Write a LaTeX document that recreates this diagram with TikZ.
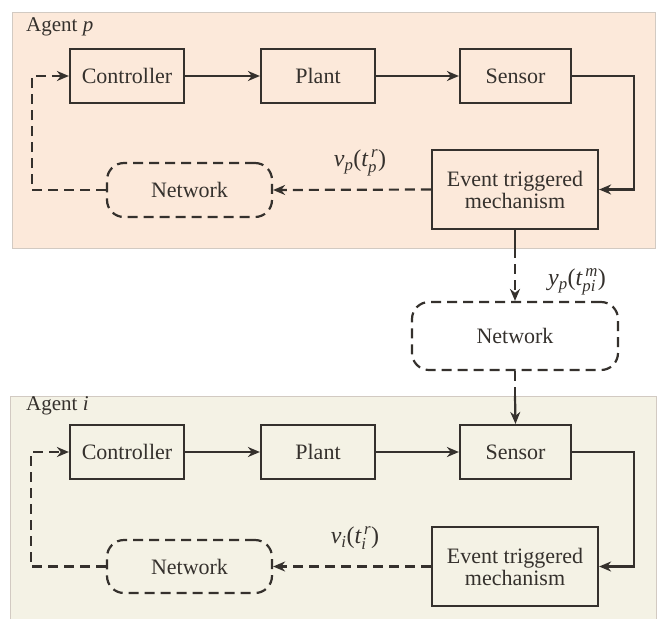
\documentclass[tikz,border=0pt]{standalone}
\usepackage{amsmath}
\usepackage{fontspec}
\setmainfont{Liberation Serif}
\usetikzlibrary{arrows.meta}
\definecolor{ink}{HTML}{35312D}
\definecolor{peach}{HTML}{FCE9DA}
\definecolor{cream}{HTML}{F4F2E5}
\definecolor{rim}{HTML}{D2CAC2}
\tikzset{
  blockbox/.style={draw=ink, line width=2.2pt, fill=none, inner sep=0pt,
    font=\fontsize{22}{24}\selectfont, text=ink, align=center},
  netbox/.style={draw=ink, line width=2.2pt, dash pattern=on 10pt off 6pt,
    rounded corners=17pt, inner sep=0pt, font=\fontsize{22}{24}\selectfont, text=ink},
  link/.style={draw=ink, line width=2.2pt},
  arr/.style={link, -{Stealth[length=12pt,width=10pt]}},
  dlink/.style={link, dash pattern=on 10pt off 6pt},
  darr/.style={arr, dash pattern=on 10pt off 6pt},
  sig/.style={font=\fontsize{24}{26}\selectfont, text=ink, inner sep=0pt},
  tag/.style={font=\fontsize{21}{24}\selectfont, text=ink, anchor=west, inner sep=0pt},
}
\begin{document}
\begin{tikzpicture}[x=1pt, y=-1pt]
\useasboundingbox (0,0) rectangle (660,619);
\fill[white] (0,0) rectangle (660,619);

% agent panels
\fill[peach] (12,12) rectangle (655,248);
\draw[rim, line width=1pt] (12,12) rectangle (655,248);
\fill[cream] (10,396) rectangle (656,619);
\draw[rim, line width=1pt] (10,619) -- (10,396) -- (656,396) -- (656,619);
\node[tag] (ap) at (26,27) {Agent \textit{p}};
\node[tag] (ai) at (26,406) {Agent \textit{i}};

% agent p blocks
\node[blockbox, minimum width=114pt, minimum height=54pt] (c1) at (127,76) {Controller};
\node[blockbox, minimum width=114pt, minimum height=54pt] (p1) at (318,76) {Plant};
\node[blockbox, minimum width=111pt, minimum height=54pt] (s1) at (515.5,76) {Sensor};
\node[blockbox, minimum width=166pt, minimum height=79pt] (e1) at (515,189.5) {Event triggered\\[-2pt]mechanism};
\node[netbox, minimum width=165pt, minimum height=54pt] (n1) at (189.5,190) {Network};

% shared network
\node[netbox, minimum width=206pt, minimum height=68pt] (nm) at (515,336) {Network};

% agent i blocks
\node[blockbox, minimum width=114pt, minimum height=54pt] (c2) at (127,452) {Controller};
\node[blockbox, minimum width=114pt, minimum height=54pt] (p2) at (318,452) {Plant};
\node[blockbox, minimum width=111pt, minimum height=54pt] (s2) at (515.5,452) {Sensor};
\node[blockbox, minimum width=166pt, minimum height=79pt] (e2) at (515,566.5) {Event triggered\\[-2pt]mechanism};
\node[netbox, minimum width=165pt, minimum height=53pt] (n2) at (189.5,566.5) {Network};

% signal labels
\node[sig] (lp) at (360,163) {\textit{v}$_{\textit{p}}$($\textit{t}^{\,\textit{r}}_{\textit{p}}$)};
\node[sig] (ly) at (577,282) {\textit{y}$_{\textit{p}}$($\textit{t}^{\,\textit{m}}_{\textit{pi}}$)};
\node[sig] (li) at (355,538) {\textit{v}$_{\textit{i}}$($\textit{t}^{\,\textit{r}}_{\textit{i}}$)};

% agent p loop
\draw[arr] (c1.east) -- (p1.west);
\draw[arr] (p1.east) -- (s1.west);
\draw[arr] (s1.east) -- ++(62,0) |- (e1.east);
\draw[darr] (e1.west) -- (n1.east);
\draw[darr] (n1.west) -- ++(-74,0) |- (c1.west);

% link between agents
\coordinate (q1) at (515,248);
\coordinate (q2) at (515,396);
\draw[link] (e1.south) -- (q1);
\draw[darr] (q1) -- (nm.north);
\draw[dlink] (nm.south) -- (q2);
\draw[arr] (q2) -- (s2.north);

% agent i loop
\draw[arr] (c2.east) -- (p2.west);
\draw[arr] (p2.east) -- (s2.west);
\draw[arr] (s2.east) -- ++(62,0) |- (e2.east);
\draw[darr] (e2.west) -- (n2.east);
\draw[darr] (n2.west) -- ++(-75,0) |- (c2.west);
\end{tikzpicture}
\end{document}
